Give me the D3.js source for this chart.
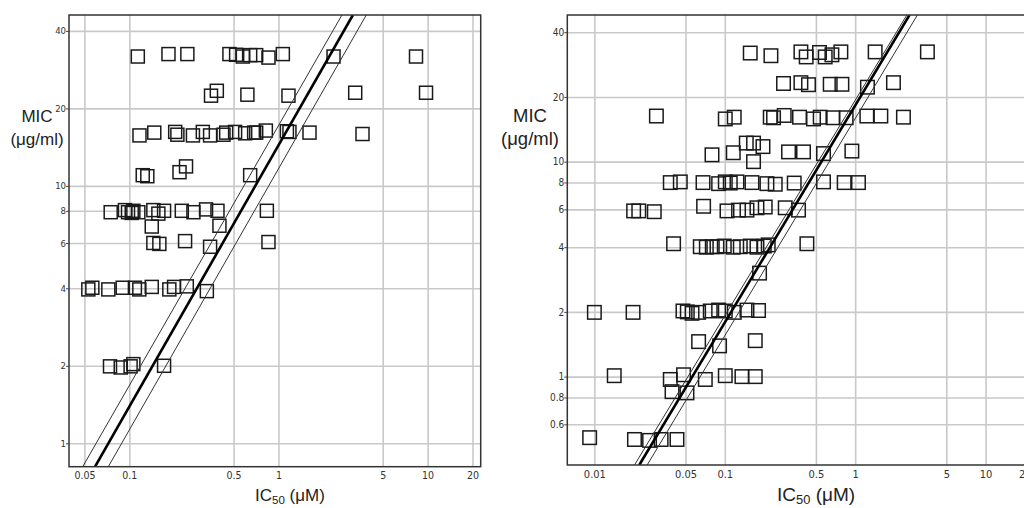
<!DOCTYPE html>
<html>
<head>
<meta charset="utf-8">
<script src="https://cdn.jsdelivr.net/npm/d3@7"></script>
<style>
  body { margin: 0; background: #fff; }
  .tick text { font-family: "Liberation Sans Narrow", "DejaVu Sans Condensed", sans-serif; fill: #333; }
  .title { font-family: "Liberation Sans", Arial, sans-serif; fill: #222; }
</style>
</head>
<body>
<div id="chart"></div>
<script>
// 1: DATA -- [IC50 in uM, MIC in ug/ml]
const leftPoints = [
  // ~32
  [0.114, 31.8], [0.183, 32.5], [0.245, 32.5], [0.469, 32.5], [0.52, 32.3], [0.577, 31.8],
  [0.646, 32.2], [0.709, 32.2], [0.857, 31.5], [1.07, 32.5], [2.34, 31.8], [8.36, 31.8],
  // ~23
  [0.353, 22.4], [0.386, 23.4], [0.619, 22.6], [1.167, 22.4], [3.27, 23.0], [9.76, 23.0],
  // 16
  [0.117, 15.7], [0.147, 16.1], [0.203, 16.2], [0.21, 15.8], [0.267, 15.7], [0.311, 16.2],
  [0.348, 15.7], [0.428, 15.8], [0.446, 16.1], [0.512, 16.2], [0.598, 16.0], [0.687, 16.1],
  [0.709, 16.1], [0.823, 16.4], [1.139, 16.3], [1.185, 16.2], [1.615, 16.1], [3.66, 15.9],
  // 11-12
  [0.123, 11.0], [0.132, 10.9], [0.217, 11.3], [0.240, 11.9], [0.646, 11.0],
  // 8
  [0.075, 7.9], [0.0935, 8.05], [0.098, 7.9], [0.1038, 7.85], [0.1064, 8.0], [0.1149, 7.9],
  [0.1449, 8.05], [0.1566, 7.8], [0.171, 8.0], [0.2248, 8.0], [0.269, 7.9], [0.327, 8.1],
  [0.39, 8.0], [0.836, 8.0],
  // 7
  [0.1414, 6.95], [0.402, 7.0],
  // 6
  [0.1449, 6.0], [0.159, 5.95], [0.2365, 6.1], [0.348, 5.8], [0.857, 6.05],
  // 4
  [0.0531, 3.96], [0.0565, 4.02], [0.0723, 3.96], [0.0903, 4.02], [0.109, 4.02], [0.1167, 3.96],
  [0.1414, 4.05], [0.1855, 3.96], [0.1995, 4.05], [0.2428, 4.07], [0.331, 3.9],
  // 2
  [0.0742, 1.99], [0.0876, 1.97], [0.102, 1.99], [0.1064, 2.03], [0.171, 2.0]
];

const rightPoints = [
  // ~32
  [0.1568, 32.0], [0.2259, 31.1], [0.3836, 32.4], [0.4211, 30.7], [0.5325, 32.2], [0.5891, 30.7],
  [0.6631, 31.4], [0.777, 32.4], [1.423, 32.4], [3.58, 32.4],
  // ~23
  [0.2822, 23.1], [0.3836, 23.3], [0.4386, 22.8], [0.6434, 22.9], [0.791, 22.9], [1.242, 22.2], [1.966, 23.3],
  // 16
  [0.0299, 16.3], [0.1009, 15.8], [0.1182, 16.1], [0.2232, 16.1], [0.2366, 16.0], [0.2857, 16.4],
  [0.3743, 16.1], [0.4792, 15.8], [0.5392, 16.1], [0.6749, 16.0], [0.853, 16.0], [1.229, 16.3],
  [1.574, 16.3], [2.345, 16.1],
  // 10-13
  [0.1462, 12.2], [0.1662, 12.2], [0.1963, 11.75], [0.0798, 10.76], [0.1162, 11.0], [0.3083, 11.1],
  [0.4016, 11.1], [0.5716, 10.9], [0.9434, 11.2], [0.1662, 10.0],
  // 8
  [0.0382, 7.99], [0.0456, 8.05], [0.0681, 7.99], [0.0897, 7.9], [0.1009, 8.05], [0.1102, 7.95],
  [0.124, 8.05], [0.1616, 7.99], [0.2105, 7.9], [0.2438, 7.85], [0.3408, 7.95], [0.5716, 8.05],
  [0.8235, 7.99], [1.06, 7.99],
  // 6
  [0.02, 5.9], [0.0219, 5.9], [0.0288, 5.85], [0.0688, 6.2], [0.104, 5.9], [0.1275, 5.95],
  [0.148, 5.95], [0.1765, 6.1], [0.2043, 6.15], [0.2908, 6.1], [0.3677, 5.95],
  // 4
  [0.0405, 4.15], [0.0649, 4.02], [0.0722, 4.0], [0.0802, 4.02], [0.0871, 4.02], [0.0991, 4.05],
  [0.1162, 4.0], [0.1315, 4.02], [0.1568, 4.05], [0.1765, 4.0], [0.2008, 4.05], [0.2154, 4.1],
  [0.4264, 4.15],
  // 3
  [0.1848, 3.03],
  // 2
  [0.01, 1.99], [0.0198, 1.99], [0.0478, 2.02], [0.0516, 2.0], [0.0561, 1.97], [0.063, 1.99],
  [0.0774, 2.02], [0.0897, 2.04], [0.1009, 2.02], [0.1182, 1.99], [0.148, 2.04], [0.1815, 2.03],
  // ~1.4
  [0.063, 1.455], [0.0912, 1.39], [0.1713, 1.47],
  // 1
  [0.0142, 1.01], [0.0382, 0.97], [0.0483, 1.02], [0.0709, 0.97], [0.1009, 1.01], [0.1354, 1.0], [0.1713, 1.0],
  // below 1
  [0.0394, 0.851], [0.0513, 0.84],
  [0.0092, 0.52], [0.0203, 0.51], [0.0265, 0.505], [0.0325, 0.51], [0.043, 0.51]
];

// regression line and its two confidence lines (end points)
const leftFit = [[0.0589, 0.811], [3.155, 46.1]];
const leftBandUpper = [[0.0487, 0.811], [2.665, 46.1]];
const leftBandLower = [[0.0723, 0.811], [3.88, 46.1]];
const rightFit = [[0.0221, 0.388], [2.61, 48.1]];
const rightBandUpper = [[0.0203, 0.388], [2.49, 48.1]];
const rightBandLower = [[0.0254, 0.388], [3.0, 48.1]];

// axes
const leftXDomain = [0.0394, 22.7];
const leftYDomain = [0.811, 46.1];
const rightXDomain = [0.0062, 22.7];
const rightYDomain = [0.388, 48.1];
const leftXTicks = [0.05, 0.1, 0.5, 1, 5, 10, 20];
const leftYTicks = [1, 2, 4, 6, 8, 10, 20, 40];
const rightXTicks = [0.01, 0.05, 0.1, 0.5, 1, 5, 10, 20];
const rightYTicks = [0.6, 0.8, 1, 2, 4, 6, 8, 10, 20, 40];

// 2: SVG
const svg = d3.select("#chart").append("svg")
  .attr("width", 1024)
  .attr("height", 508);

const fmt = d3.format("~g");

function drawPanel(p) {
  const x = d3.scaleLog().domain(p.xDomain).range([p.left, p.right]);
  const y = d3.scaleLog().domain(p.yDomain).range([p.bottom, p.top]);
  const g = svg.append("g");

  // clip for lines
  g.append("clipPath").attr("id", p.id)
    .append("rect")
    .attr("x", p.left).attr("y", p.top)
    .attr("width", p.right - p.left).attr("height", p.bottom - p.top);

  // gridlines
  g.append("g")
    .attr("transform", `translate(0,${p.bottom})`)
    .call(d3.axisBottom(x).tickValues(p.xTicks).tickSize(-(p.bottom - p.top)).tickFormat(""))
    .call(a => a.select(".domain").remove())
    .selectAll("line").attr("stroke", "#c9c9c9").attr("stroke-width", 1.6);
  g.append("g")
    .attr("transform", `translate(${p.left},0)`)
    .call(d3.axisLeft(y).tickValues(p.yTicks).tickSize(-(p.right - p.left)).tickFormat(""))
    .call(a => a.select(".domain").remove())
    .selectAll("line").attr("stroke", "#c9c9c9").attr("stroke-width", 1.6);

  // squares
  g.append("g").selectAll("rect")
    .data(p.points)
    .enter()
    .append("rect")
    .attr("x", d => x(d[0]) - p.sq / 2)
    .attr("y", d => y(d[1]) - p.sq / 2)
    .attr("width", p.sq)
    .attr("height", p.sq)
    .attr("fill", "none")
    .attr("stroke", "#1a1a1a")
    .attr("stroke-width", 1.5);

  // fit + confidence lines
  const line = d3.line().x(d => x(d[0])).y(d => y(d[1]));
  const lines = g.append("g").attr("clip-path", `url(#${p.id})`);
  [p.bandUpper, p.bandLower].forEach(b => {
    lines.append("path").attr("d", line(b))
      .attr("fill", "none").attr("stroke", "#333").attr("stroke-width", 1);
  });
  lines.append("path").attr("d", line(p.fit))
    .attr("fill", "none").attr("stroke", "#000").attr("stroke-width", 2.6);

  // frame
  g.append("rect")
    .attr("x", p.left).attr("y", p.top)
    .attr("width", p.right - p.left).attr("height", p.bottom - p.top)
    .attr("fill", "none").attr("stroke", "#333").attr("stroke-width", 1.5);

  // tick labels
  g.append("g")
    .attr("transform", `translate(0,${p.bottom})`)
    .call(d3.axisBottom(x).tickValues(p.xTicks).tickSize(0).tickPadding(5).tickFormat(fmt))
    .call(a => a.select(".domain").remove())
    .selectAll("text").style("font-size", p.xTickFont + "px");
  g.append("g")
    .attr("transform", `translate(${p.left},0)`)
    .call(d3.axisLeft(y).tickValues(p.yTicks).tickSize(3).tickPadding(0).tickFormat(fmt))
    .call(a => a.select(".domain").remove())
    .call(a => a.selectAll("line").attr("stroke", "#444"))
    .selectAll("text").style("font-size", p.yTickFont + "px");

  // axis titles
  g.append("text").attr("class", "title")
    .attr("x", p.yTitleX).attr("y", 122)
    .attr("text-anchor", "middle")
    .style("font-size", p.yTitleFont + "px")
    .text("MIC");
  g.append("text").attr("class", "title")
    .attr("x", p.yTitleX).attr("y", 145)
    .attr("text-anchor", "middle")
    .style("font-size", p.yTitleFont + "px")
    .text("(μg/ml)");

  const xt = g.append("text").attr("class", "title")
    .attr("x", p.xTitleX).attr("y", 501)
    .style("font-size", p.xTitleFont + "px");
  xt.append("tspan").text("IC");
  xt.append("tspan").attr("dy", 3).style("font-size", (p.xTitleFont * 0.68) + "px").text("50");
  xt.append("tspan").attr("dy", -3).text(" (μM)");
}

drawPanel({
  id: "clipL", points: leftPoints, fit: leftFit, bandUpper: leftBandUpper, bandLower: leftBandLower,
  xDomain: leftXDomain, yDomain: leftYDomain, xTicks: leftXTicks, yTicks: leftYTicks,
  left: 69, right: 480.7, top: 15, bottom: 466.7, sq: 13,
  xTickFont: 10.5, yTickFont: 9.5, yTitleX: 37, yTitleFont: 17, xTitleX: 255, xTitleFont: 17
});

drawPanel({
  id: "clipR", points: rightPoints, fit: rightFit, bandUpper: rightBandUpper, bandLower: rightBandLower,
  xDomain: rightXDomain, yDomain: rightYDomain, xTicks: rightXTicks, yTicks: rightYTicks,
  left: 567.3, right: 1032, top: 15, bottom: 465, sq: 13.5,
  xTickFont: 11, yTickFont: 10, yTitleX: 530, yTitleFont: 18.5, xTitleX: 777, xTitleFont: 19
});
</script>
</body>
</html>
